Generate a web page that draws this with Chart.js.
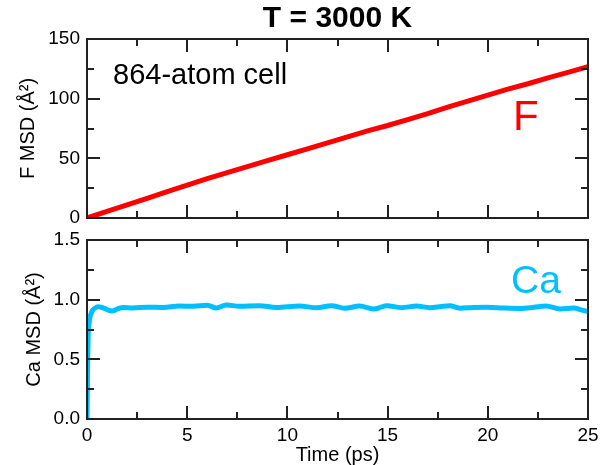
<!DOCTYPE html>
<html>
<head>
<meta charset="utf-8">
<script src="https://cdn.jsdelivr.net/npm/chart.js@4/dist/chart.umd.min.js"></script>
<style>
  body { margin: 0; background: #fff; width: 613px; height: 465px; overflow: hidden; position: relative; }
  canvas { position: absolute; left: 0; }
  #topChart { top: 0; }
  #bottomChart { top: 220px; }
</style>
</head>
<body>
<canvas id="topChart" width="613" height="240"></canvas>
<canvas id="bottomChart" width="613" height="250"></canvas>
<script>
// F mean square displacement (top panel)
const fTime = [0, 1, 2, 3, 4, 5, 6, 7, 8, 9, 10, 11, 12, 13, 14, 15, 16, 17, 18, 19, 20, 21, 22, 23, 24, 25];
const fMsd = [0, 5.5, 11, 16.5, 22, 27.5, 33, 38, 43, 48, 53, 58, 63, 68, 73, 77.5, 82.5, 87.5, 93, 98, 103, 108, 112.5, 117.5, 122, 126.8];

// Ca mean square displacement (bottom panel)
const caTime = [0, 0.03, 0.06, 0.1, 0.15, 0.22, 0.3, 0.4, 0.55, 0.7, 0.9, 1.1, 1.25, 1.55, 1.8, 2.3, 3.0, 3.8, 4.6, 5.3, 6.0, 6.45, 6.95, 7.6, 8.6, 9.45, 10.6, 11.45, 12.2, 12.85, 13.6, 14.35, 14.95, 15.7, 16.45, 17.1, 17.6, 18.1, 18.6, 19.3, 19.95, 20.8, 21.6, 22.3, 22.9, 23.6, 24.3, 24.65, 25];
const caMsd = [0, 0.45, 0.72, 0.8, 0.855, 0.89, 0.915, 0.93, 0.94, 0.937, 0.925, 0.91, 0.905, 0.925, 0.935, 0.93, 0.937, 0.935, 0.946, 0.945, 0.953, 0.93, 0.955, 0.945, 0.95, 0.935, 0.947, 0.932, 0.95, 0.928, 0.946, 0.922, 0.95, 0.933, 0.946, 0.933, 0.94, 0.95, 0.928, 0.935, 0.936, 0.93, 0.927, 0.936, 0.947, 0.922, 0.93, 0.915, 0.9];

const xTicks = [0, 5, 10, 15, 20, 25];
const fTicks = [0, 50, 100, 150];
const caTicks = [0.0, 0.5, 1.0, 1.5];

const FONT = "'Liberation Sans', Arial, sans-serif";
const RED = '#ff0000';
const BLUE = '#00bfff';

// frame + inward ticks on all four sides (major and minor)
function frameTicks(xMinor, yMinor) {
    return {
        id: 'frameTicks',
        afterDatasetsDraw(chart) {
            const { ctx, chartArea: a, scales } = chart;
            const xs = scales.x, ys = scales.y;
            ctx.save();
            ctx.strokeStyle = '#222';
            ctx.lineWidth = 2;
            ctx.beginPath();
            const tick = (v, len, axis) => {
                if (axis === 'x') {
                    const px = Math.round(xs.getPixelForValue(v));
                    ctx.moveTo(px, a.bottom); ctx.lineTo(px, a.bottom - len);
                    ctx.moveTo(px, a.top); ctx.lineTo(px, a.top + len);
                } else {
                    const py = Math.round(ys.getPixelForValue(v));
                    ctx.moveTo(a.left, py); ctx.lineTo(a.left + len, py);
                    ctx.moveTo(a.right, py); ctx.lineTo(a.right - len, py);
                }
            };
            for (let v = xs.min; v <= xs.max + 1e-9; v += xMinor) {
                const major = Math.abs(v / (xMinor * 2) - Math.round(v / (xMinor * 2))) < 1e-6;
                tick(v, major ? 13 : 7, 'x');
            }
            for (let v = ys.min; v <= ys.max + 1e-9; v += yMinor) {
                const major = Math.abs(v / (yMinor * 2) - Math.round(v / (yMinor * 2))) < 1e-6;
                tick(v, major ? 13 : 7, 'y');
            }
            ctx.stroke();
            ctx.strokeRect(a.left, a.top, a.right - a.left, a.bottom - a.top);
            ctx.restore();
        }
    };
}

// text placed in data coordinates
function textLabels(items) {
    return {
        id: 'textLabels',
        afterDraw(chart) {
            const { ctx, scales, chartArea } = chart;
            ctx.save();
            items.forEach(it => {
                ctx.font = it.font;
                ctx.fillStyle = it.color;
                ctx.textAlign = it.align || 'left';
                ctx.textBaseline = 'alphabetic';
                const x = it.x === 'center' ? (chartArea.left + chartArea.right) / 2 : scales.x.getPixelForValue(it.x);
                const y = it.y === 'above' ? chartArea.top - 12 : scales.y.getPixelForValue(it.y);
                ctx.fillText(it.text, x, y);
            });
            ctx.restore();
        }
    };
}

const tickFont = { family: FONT, size: 19 };
const titleFont = { family: FONT, size: 20 };

new Chart(document.getElementById('topChart'), {
    type: 'line',
    data: {
        datasets: [{
            data: fTime.map((t, i) => ({ x: t, y: fMsd[i] })),
            borderColor: RED,
            borderWidth: 5,
            pointRadius: 0,
            fill: false
        }]
    },
    options: {
        responsive: false,
        animation: false,
        devicePixelRatio: 1,
        layout: { padding: { top: 39, right: 25, bottom: 22, left: 0 } },
        plugins: { legend: { display: false }, tooltip: { enabled: false } },
        scales: {
            x: { type: 'linear', min: 0, max: 25, display: false },
            y: {
                type: 'linear', min: 0, max: 150,
                afterBuildTicks: s => { s.ticks = fTicks.map(v => ({ value: v })); },
                ticks: { font: tickFont, color: '#000', padding: 7 },
                grid: { display: false, drawTicks: false },
                border: { display: false },
                title: { display: true, text: 'F MSD (Å²)', font: titleFont, color: '#000', padding: { top: 16, bottom: 0 } },
                afterFit: s => { s.width = 87; }
            }
        }
    },
    plugins: [frameTicks(2.5, 25), textLabels([
        { text: 'T = 3000 K', x: 'center', y: 'above', font: `bold 30px ${FONT}`, color: '#000', align: 'center' },
        { text: '864-atom cell', x: 1.3, y: 112.3, font: `29px ${FONT}`, color: '#000' },
        { text: 'F', x: 21.26, y: 73.8, font: `42px ${FONT}`, color: RED }
    ])]
});

new Chart(document.getElementById('bottomChart'), {
    type: 'line',
    data: {
        datasets: [{
            data: caTime.map((t, i) => ({ x: t, y: caMsd[i] })),
            borderColor: BLUE,
            borderWidth: 5,
            pointRadius: 0,
            cubicInterpolationMode: 'monotone',
            fill: false
        }]
    },
    options: {
        responsive: false,
        animation: false,
        devicePixelRatio: 1,
        layout: { padding: { top: 20, right: 25, bottom: 0, left: 0 } },
        plugins: { legend: { display: false }, tooltip: { enabled: false } },
        scales: {
            x: {
                type: 'linear', min: 0, max: 25,
                afterBuildTicks: s => { s.ticks = xTicks.map(v => ({ value: v })); },
                ticks: { font: tickFont, color: '#000', padding: 5, maxRotation: 0 },
                grid: { display: false, drawTicks: false },
                border: { display: false },
                title: { display: true, text: 'Time (ps)', font: titleFont, color: '#000', padding: 3 },
                afterFit: s => { s.height = 51; }
            },
            y: {
                type: 'linear', min: 0, max: 1.5,
                afterBuildTicks: s => { s.ticks = caTicks.map(v => ({ value: v })); },
                ticks: { font: tickFont, color: '#000', padding: 7, callback: v => Number(v).toFixed(1) },
                grid: { display: false, drawTicks: false },
                border: { display: false },
                title: { display: true, text: 'Ca MSD (Å²)', font: titleFont, color: '#000', padding: { top: 22, bottom: 0 } },
                afterFit: s => { s.width = 87; }
            }
        }
    },
    plugins: [frameTicks(2.5, 0.25), textLabels([
        { text: 'Ca', x: 21.16, y: 1.06, font: `39px ${FONT}`, color: BLUE }
    ])]
});
</script>
</body>
</html>
